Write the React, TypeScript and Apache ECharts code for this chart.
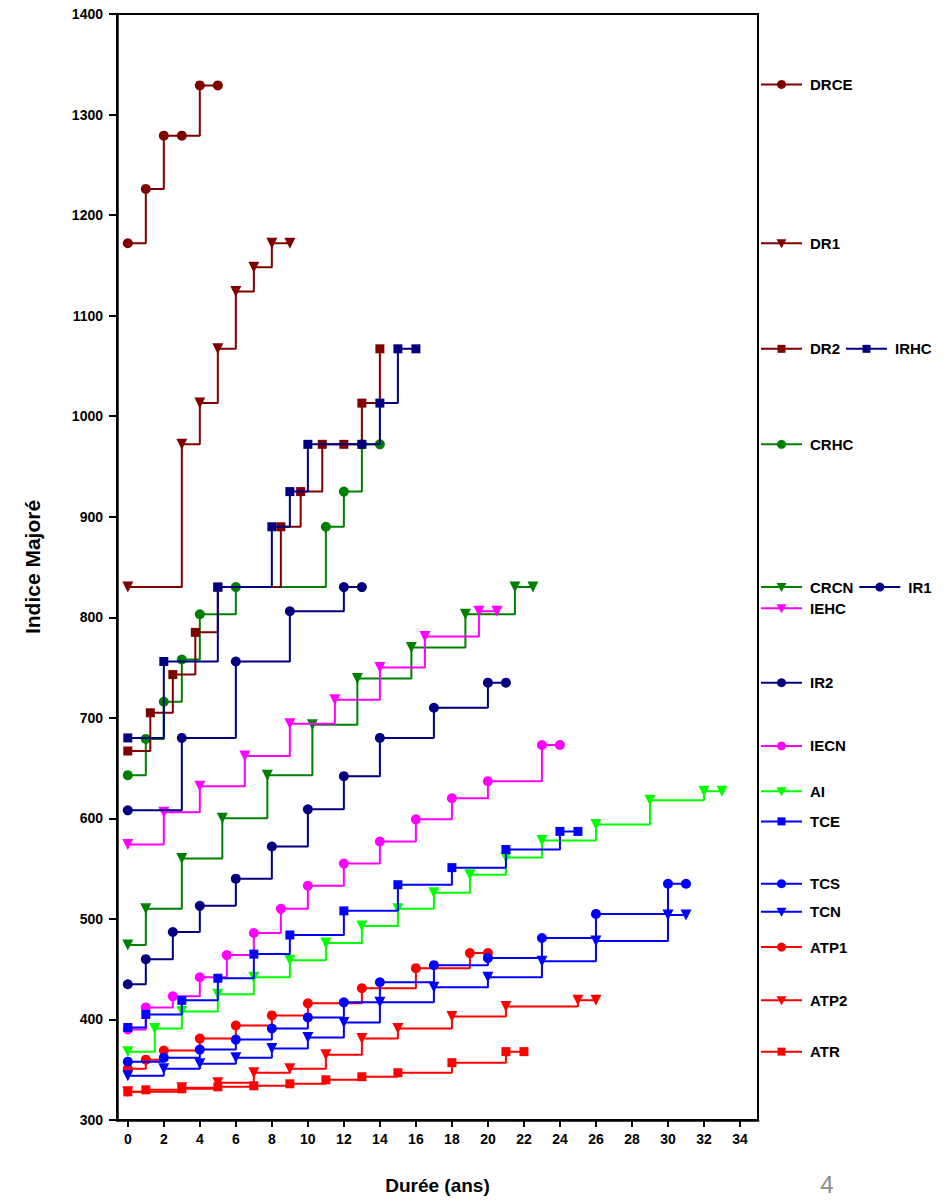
import React, { useEffect, useRef } from 'react';
import * as echarts from 'echarts';

const FONT = '"Liberation Sans", Arial, Helvetica, sans-serif';

// ---- data: [durée (ans), indice majoré] ----
const DRCE = [[0, 1172], [1, 1226], [2, 1279], [3, 1279], [4, 1329], [5, 1329]];
const DR1 = [[0, 830], [3, 972], [4, 1013], [5, 1067], [6, 1124], [7, 1148], [8, 1172], [9, 1172]];
const DR2 = [[0, 667], [1.25, 705], [2.5, 743], [3.75, 785], [5, 830], [8.5, 890], [9.6, 925], [10.8, 972], [12, 972], [13, 1013], [14, 1067]];
const IRHC = [[0, 680], [2, 756], [5, 830], [8, 890], [9, 925], [10, 972], [13, 972], [14, 1013], [15, 1067], [16, 1067]];
const CRHC = [[0, 643], [1, 679], [2, 716], [3, 758], [4, 803], [6, 830], [11, 890], [12, 925], [13, 972], [14, 972]];
const CRCN = [[0, 474], [1, 510], [3, 560], [5.25, 600], [7.75, 643], [10.25, 693], [12.75, 739], [15.75, 770], [18.75, 803], [21.5, 830], [22.5, 830]];
const IR1 = [[0, 608], [3, 680], [6, 756], [9, 806], [12, 830], [13, 830]];
const IEHC = [[0, 574], [2, 606], [4, 632], [6.5, 662], [9, 694], [11.5, 718], [14, 750], [16.5, 781], [19.5, 806], [20.5, 806]];
const IR2 = [[0, 435], [1, 460], [2.5, 487], [4, 513], [6, 540], [8, 572], [10, 609], [12, 642], [14, 680], [17, 710], [20, 735], [21, 735]];
const IECN = [[0, 390], [1, 412], [2.5, 423], [4, 442], [5.5, 464], [7, 486], [8.5, 510], [10, 533], [12, 555], [14, 577], [16, 599], [18, 620], [20, 637], [23, 673], [24, 673]];
const AI = [[0, 368], [1.5, 391], [3, 408], [5, 425], [7, 442], [9, 459], [11, 476], [13, 493], [15, 510], [17, 526], [19, 544], [21, 561], [23, 578], [26, 594], [29, 618], [32, 627], [33, 627]];
const TCE = [[0, 392], [1, 405], [3, 419], [5, 441], [7, 465], [9, 484], [12, 508], [15, 534], [18, 551], [21, 569], [24, 587], [25, 587]];
const TCS = [[0, 358], [2, 362], [4, 370], [6, 380], [8, 391], [10, 402], [12, 417], [14, 437], [17, 454], [20, 461], [23, 481], [26, 505], [30, 535], [31, 535]];
const TCN = [[0, 344], [2, 351], [4, 356], [6, 362], [8, 371], [10, 382], [12, 397], [14, 417], [17, 432], [20, 442], [23, 458], [26, 478], [30, 504], [31, 504]];
const ATP1 = [[0, 351], [1, 360], [2, 369], [4, 381], [6, 394], [8, 404], [10, 416], [13, 431], [16, 451], [19, 466], [20, 466]];
const ATP2 = [[0, 328], [3, 332], [5, 337], [7, 347], [9, 351], [11, 365], [13, 381], [15, 391], [18, 403], [21, 413], [25, 419], [26, 419]];
const ATR = [[0, 328], [1, 330], [3, 331], [5, 333], [7, 334], [9, 336], [11, 340], [13, 343], [15, 347], [18, 357], [21, 368], [22, 368]];

const X_TICKS = [0, 2, 4, 6, 8, 10, 12, 14, 16, 18, 20, 22, 24, 26, 28, 30, 32, 34];

// legend rows: series names and the index level each row sits at
const LEGEND_ROWS: { names: string[]; at: number }[] = [
  { names: ['DRCE'], at: 1330 },
  { names: ['DR1'], at: 1172 },
  { names: ['DR2', 'IRHC'], at: 1067 },
  { names: ['CRHC'], at: 972 },
  { names: ['CRCN', 'IR1'], at: 830 },
  { names: ['IEHC'], at: 809 },
  { names: ['IR2'], at: 735 },
  { names: ['IECN'], at: 672 },
  { names: ['AI'], at: 627 },
  { names: ['TCE'], at: 597 },
  { names: ['TCS'], at: 535 },
  { names: ['TCN'], at: 507 },
  { names: ['ATP1'], at: 472 },
  { names: ['ATP2'], at: 419 },
  { names: ['ATR'], at: 368 },
];

const C = {
  darkRed: '#800000',
  navy: '#000080',
  green: '#008000',
  magenta: '#ff00ff',
  lime: '#00ff00',
  blue: '#0000ff',
  red: '#ff0000',
};

type Sym = 'circle' | 'square' | 'tri';
const SERIES: { name: string; data: number[][]; color: string; sym: Sym }[] = [
  { name: 'ATR', data: ATR, color: C.red, sym: 'square' },
  { name: 'ATP2', data: ATP2, color: C.red, sym: 'tri' },
  { name: 'ATP1', data: ATP1, color: C.red, sym: 'circle' },
  { name: 'TCN', data: TCN, color: C.blue, sym: 'tri' },
  { name: 'TCS', data: TCS, color: C.blue, sym: 'circle' },
  { name: 'AI', data: AI, color: C.lime, sym: 'tri' },
  { name: 'IECN', data: IECN, color: C.magenta, sym: 'circle' },
  { name: 'TCE', data: TCE, color: C.blue, sym: 'square' },
  { name: 'IR2', data: IR2, color: C.navy, sym: 'circle' },
  { name: 'CRCN', data: CRCN, color: C.green, sym: 'tri' },
  { name: 'IEHC', data: IEHC, color: C.magenta, sym: 'tri' },
  { name: 'IR1', data: IR1, color: C.navy, sym: 'circle' },
  { name: 'CRHC', data: CRHC, color: C.green, sym: 'circle' },
  { name: 'DR2', data: DR2, color: C.darkRed, sym: 'square' },
  { name: 'IRHC', data: IRHC, color: C.navy, sym: 'square' },
  { name: 'DR1', data: DR1, color: C.darkRed, sym: 'tri' },
  { name: 'DRCE', data: DRCE, color: C.darkRed, sym: 'circle' },
];

const symbolOf = (s: Sym) => (s === 'circle' ? 'circle' : s === 'square' ? 'rect' : 'triangle');
const sizeOf = (s: Sym) => (s === 'circle' ? 10 : s === 'square' ? 9 : 11);

export default function App() {
  const ref = useRef<HTMLDivElement>(null);

  useEffect(() => {
    if (!ref.current) return;
    const chart = echarts.init(ref.current, null, { renderer: 'svg' });

    const axisText = { fontFamily: FONT, fontWeight: 'bold' as const, fontSize: 14, color: '#000' };

    chart.setOption({
      animation: false,
      backgroundColor: '#fff',
      grid: {
        left: 117,
        right: 187,
        top: 14,
        bottom: 76,
        show: true,
        borderColor: '#000',
        borderWidth: 2,
        backgroundColor: 'transparent',
      },
      xAxis: {
        type: 'value',
        min: -0.6,
        max: 35,
        name: 'Durée (ans)',
        nameLocation: 'middle',
        nameGap: 56,
        nameTextStyle: { fontFamily: FONT, fontWeight: 'bold', fontSize: 19, color: '#000' },
        axisLine: { show: true, onZero: false, lineStyle: { color: '#000', width: 2.5 } },
        axisTick: { show: true, inside: false, length: 7, customValues: X_TICKS, lineStyle: { color: '#000', width: 2 } },
        axisLabel: { ...axisText, margin: 12, customValues: X_TICKS },
        splitLine: { show: false },
      },
      yAxis: {
        type: 'value',
        min: 300,
        max: 1400,
        interval: 100,
        name: 'Indice Majoré',
        nameLocation: 'middle',
        nameGap: 74,
        nameTextStyle: { fontFamily: FONT, fontWeight: 'bold', fontSize: 21, color: '#000' },
        axisLine: { show: true, onZero: false, lineStyle: { color: '#000', width: 2.5 } },
        axisTick: { show: true, inside: false, length: 8, lineStyle: { color: '#000', width: 2 } },
        axisLabel: { ...axisText, margin: 14, formatter: (v: number) => String(v) },
        splitLine: { show: false },
      },
      series: SERIES.map((s, i) => ({
        type: 'line',
        name: s.name,
        data: s.data,
        step: 'end',
        symbol: symbolOf(s.sym),
        symbolSize: sizeOf(s.sym),
        symbolRotate: s.sym === 'tri' ? 180 : 0,
        showSymbol: true,
        lineStyle: { color: s.color, width: 2 },
        itemStyle: { color: s.color, borderWidth: 0 },
        z: 2 + i * 0.01,
        clip: true,
      })),
    });

    // legend drawn beside the plot, rows placed with the y-axis scale
    const canvas = document.createElement('canvas');
    const ctx = canvas.getContext('2d');
    const legendFont = `bold 15px ${FONT}`;
    if (ctx) ctx.font = legendFont;
    const byName: Record<string, { color: string; sym: Sym }> = {};
    SERIES.forEach((s) => (byName[s.name] = { color: s.color, sym: s.sym }));

    const graphics: any[] = [];
    const markerShape = (sym: Sym, cx: number, cy: number, color: string) => {
      if (sym === 'circle') return { type: 'circle', shape: { cx, cy, r: 4.5 }, style: { fill: color } };
      if (sym === 'square') return { type: 'rect', shape: { x: cx - 4, y: cy - 4, width: 8, height: 8 }, style: { fill: color } };
      return { type: 'polygon', shape: { points: [[cx - 5, cy - 4], [cx + 5, cy - 4], [cx, cy + 5]] }, style: { fill: color } };
    };

    LEGEND_ROWS.forEach((row) => {
      const y = chart.convertToPixel({ yAxisIndex: 0 }, row.at) as number;
      let x = 761;
      row.names.forEach((name) => {
        const info = byName[name];
        graphics.push({ type: 'line', shape: { x1: x, y1: y, x2: x + 41, y2: y }, style: { stroke: info.color, lineWidth: 2 } });
        graphics.push(markerShape(info.sym, x + 20.5, y, info.color));
        const tx = x + 49;
        graphics.push({
          type: 'text',
          x: tx,
          y,
          style: { text: name, font: legendFont, fill: '#000', align: 'left', verticalAlign: 'middle' },
        });
        const w = ctx ? ctx.measureText(name).width : name.length * 10;
        x = tx + w + 6;
      });
    });

    graphics.push({
      type: 'text',
      x: 827,
      y: 1184,
      style: { text: '4', font: `24px ${FONT}`, fill: '#8c8c8c', align: 'center', verticalAlign: 'middle' },
    });

    chart.setOption({ graphic: graphics });

    return () => chart.dispose();
  }, []);

  return (
    <div
      ref={ref}
      style={{ position: 'fixed', left: 0, top: 0, width: 945, height: 1200, background: '#fff' }}
    />
  );
}
